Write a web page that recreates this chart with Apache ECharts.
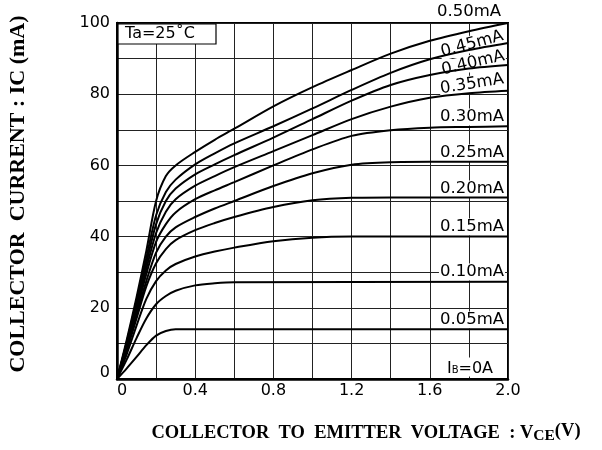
<!DOCTYPE html>
<html>
<head>
<meta charset="utf-8">
<script src="https://cdn.jsdelivr.net/npm/echarts@6/dist/echarts.min.js"></script>
<style>
  html, body { margin: 0; padding: 0; background: #fff; }
  #chart { width: 602px; height: 450px; }
</style>
</head>
<body>
<div id="chart"></div>
<script>
// base current curves: [VCE (V), IC (mA)]
const ib050 = [[0,0],[0.05,11],[0.1,23],[0.15,36],[0.2,50],[0.25,57],[0.3,60],[0.4,63.8],[0.5,67.2],[0.6,70.3],[0.8,76.6],[1.0,82],[1.2,86.8],[1.4,91.4],[1.6,95],[1.8,97.7],[2.0,100]];
const ib045 = [[0,0],[0.05,10.5],[0.1,22],[0.15,34],[0.2,46],[0.25,52.5],[0.3,56],[0.4,60.3],[0.5,63.4],[0.6,66.2],[0.8,71],[1.0,76],[1.2,81.2],[1.4,86],[1.6,89.8],[1.8,92.4],[2.0,94.4]];
const ib040 = [[0,0],[0.05,10],[0.1,21],[0.15,32.5],[0.2,43.5],[0.25,50],[0.3,53.5],[0.4,57.5],[0.5,60.3],[0.6,62.9],[0.8,67.8],[1.0,73],[1.2,78.2],[1.4,82.6],[1.6,85.4],[1.8,87.2],[2.0,88.2]];
const ib035 = [[0,0],[0.05,9.5],[0.1,20],[0.15,31],[0.2,41],[0.25,47],[0.3,50.5],[0.4,54.3],[0.5,57],[0.6,59.5],[0.8,64],[1.0,68.5],[1.2,73],[1.4,76.5],[1.6,79],[1.8,80.3],[2.0,81]];
const ib030 = [[0,0],[0.05,9],[0.1,19],[0.15,29.5],[0.2,38.5],[0.25,43.5],[0.3,46.8],[0.4,50.5],[0.5,53],[0.6,55.3],[0.8,60],[1.0,64.5],[1.2,68.3],[1.4,69.9],[1.6,70.6],[1.8,70.8],[2.0,71]];
const ib025 = [[0,0],[0.05,8.5],[0.1,18],[0.15,27.5],[0.2,35.5],[0.25,40],[0.3,42.6],[0.4,45.5],[0.5,47.9],[0.6,50],[0.8,54.2],[1.0,57.8],[1.2,60.2],[1.4,60.9],[1.6,61],[2.0,61]];
const ib020 = [[0,0],[0.05,8],[0.1,17],[0.15,26],[0.2,32.5],[0.25,36.5],[0.3,39],[0.4,41.8],[0.5,43.8],[0.6,45.5],[0.8,48.3],[1.0,50.2],[1.2,50.9],[1.4,51],[2.0,51]];
const ib015 = [[0,0],[0.05,7],[0.1,15],[0.15,22.5],[0.2,27.5],[0.25,30.5],[0.3,32.3],[0.4,34.4],[0.5,35.8],[0.6,36.9],[0.8,38.7],[1.0,39.7],[1.2,40],[2.0,40]];
const ib010 = [[0,0],[0.05,5.5],[0.1,11.5],[0.15,17],[0.2,21],[0.25,23.3],[0.3,24.8],[0.4,26.3],[0.5,26.9],[0.6,27.2],[2.0,27.3]];
const ib005 = [[0,0],[0.05,3],[0.1,6.2],[0.15,9.5],[0.2,12.2],[0.25,13.5],[0.3,14],[2.0,14]];

const curves = [ib050, ib045, ib040, ib035, ib030, ib025, ib020, ib015, ib010, ib005];
const curveLabels = ["0.50mA", "0.45mA", "0.40mA", "0.35mA", "0.30mA", "0.25mA", "0.20mA", "0.15mA", "0.10mA", "0.05mA"];

const xMin = 0, xMax = 2.0, xStep = 0.2;
const yMin = 0, yMax = 100, yStep = 10;

// where the curve labels sit: [x, y, rotation in degrees]
const labelPos = [
  [469, 12, 0], [472, 44, 15], [473, 63, 13], [472, 84, 9], [472, 117, 0],
  [472, 153, 0], [472, 189, 0], [472, 227, 0], [472, 272, 0], [472, 320, 0]
];

const chart = echarts.init(document.getElementById("chart"));

const labelFont = "DejaVu Sans";
const graphics = curveLabels.map((text, i) => ({
  type: "text",
  x: labelPos[i][0],
  y: labelPos[i][1],
  rotation: labelPos[i][2] * Math.PI / 180,
  z: 1,
  style: {
    text: text,
    fill: "#000",
    font: "16.5px '" + labelFont + "'",
    align: "center",
    verticalAlign: "middle",
    backgroundColor: "#fff",
    padding: [0, 1]
  }
}));

graphics.push({
  type: "text",
  x: 470,
  y: 367,
  z: 1,
  style: {
    text: "{i|I}{b|B}{i|=0A}",
    align: "center",
    verticalAlign: "middle",
    backgroundColor: "#fff",
    rich: {
      i: { font: "16px '" + labelFont + "'", fill: "#000", verticalAlign: "bottom", lineHeight: 19 },
      b: { font: "10px '" + labelFont + "'", fill: "#000", verticalAlign: "bottom", lineHeight: 19, padding: [0, 0, 1, 0] }
    }
  }
});

// Ta box
graphics.push({
  type: "rect",
  shape: { x: 118, y: 24, width: 98, height: 20 },
  z: 3,
  style: { fill: "#fff", stroke: "#000", lineWidth: 1.2 }
});
graphics.push({
  type: "text",
  x: 125,
  y: 34,
  z: 4,
  style: {
    text: "Ta=25˚C",
    fill: "#000",
    font: "16px '" + labelFont + "'",
    verticalAlign: "middle"
  }
});

// axis titles
graphics.push({
  type: "text",
  x: 18,
  y: 194,
  rotation: Math.PI / 2,
  style: {
    text: "COLLECTOR  CURRENT : IC (mA)",
    fill: "#000",
    font: "bold 22px 'Liberation Serif'",
    align: "center",
    verticalAlign: "middle"
  }
});
graphics.push({
  type: "text",
  x: 366,
  y: 433,
  style: {
    text: "{m|COLLECTOR  TO  EMITTER  VOLTAGE  : V}{s|CE}{p|(V)}",
    align: "center",
    verticalAlign: "middle",
    rich: {
      m: { font: "bold 18.5px 'Liberation Serif'", fill: "#000", lineHeight: 30, verticalAlign: "middle" },
      s: { font: "bold 15.5px 'Liberation Serif'", fill: "#000", lineHeight: 30, verticalAlign: "bottom", padding: [0, 0, 4, 0] },
      p: { font: "bold 18.5px 'Liberation Serif'", fill: "#000", lineHeight: 30, verticalAlign: "top", padding: [4, 0, 0, 0] }
    }
  }
});

chart.setOption({
  animation: false,
  backgroundColor: "#fff",
  grid: {
    left: 117,
    right: 94,
    top: 23,
    bottom: 71,
    show: true,
    borderColor: "#000",
    borderWidth: 2,
    backgroundColor: "transparent"
  },
  xAxis: {
    type: "value",
    min: xMin,
    max: xMax,
    interval: xStep,
    axisLine: { lineStyle: { color: "#000", width: 2.5 } },
    axisTick: { show: false },
    splitLine: { lineStyle: { color: "#222", width: 1 } },
    axisLabel: {
      color: "#000",
      fontFamily: labelFont,
      fontSize: 16,
      margin: 4,
      formatter: (v) => {
        const k = Math.round(v * 10);
        if (k === 0) return "{z|0}";
        return k % 4 === 0 ? v.toFixed(1) : "";
      },
      rich: { z: { fontFamily: labelFont, fontSize: 16, padding: [0, 0, 0, 10] } }
    }
  },
  yAxis: {
    type: "value",
    min: yMin,
    max: yMax,
    interval: yStep,
    axisLine: { show: true, lineStyle: { color: "#000", width: 2.5 } },
    axisTick: { show: false },
    splitLine: { lineStyle: { color: "#222", width: 1 } },
    axisLabel: {
      color: "#000",
      fontFamily: labelFont,
      fontSize: 16,
      margin: 7,
      formatter: (v) => {
        if (v === 0) return "{z|0}";
        return v % 20 === 0 ? String(v) : "";
      },
      rich: { z: { fontFamily: labelFont, fontSize: 16, padding: [0, 0, 12, 0] } }
    }
  },
  series: curves.map((data) => ({
    type: "line",
    data: data,
    showSymbol: false,
    smooth: 0.3,
    z: 2,
    lineStyle: { color: "#000", width: 2 }
  })),
  graphic: graphics
});
</script>
</body>
</html>
